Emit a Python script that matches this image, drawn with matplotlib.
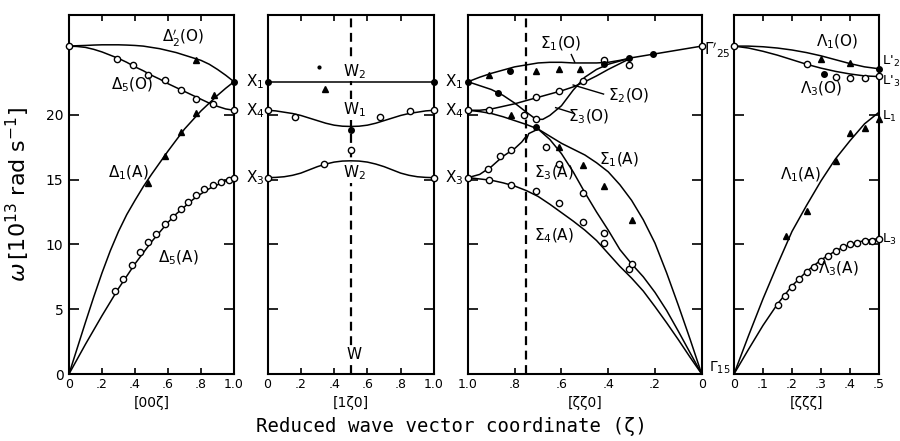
import matplotlib.pyplot as plt

plt.rcParams['font.family'] = 'DejaVu Sans'
plt.rcParams['mathtext.fontset'] = 'dejavusans'

# ---- [00z] panel ----
d_x = [0, .05, .1, .15, .2, .25, .3, .35, .4, .45, .5, .55, .6, .65, .7, .75, .8, .85, .9, .95, 1.0]
d2p_O = [25.3, 25.33, 25.35, 25.38, 25.4, 25.4, 25.4, 25.38, 25.35, 25.3, 25.2, 25.1, 24.95,
         24.8, 24.6, 24.4, 24.2, 23.9, 23.5, 23.05, 22.55]
d5_O = [25.3, 25.27, 25.2, 25.05, 24.85, 24.6, 24.35, 24.05, 23.7, 23.4, 23.05, 22.75, 22.4,
        22.1, 21.8, 21.5, 21.2, 20.9, 20.65, 20.45, 20.35]
d1_A = [0, 2.0, 4.0, 5.95, 7.8, 9.5, 11.0, 12.3, 13.4, 14.45, 15.4, 16.3, 17.2, 18.05, 18.9,
        19.6, 20.3, 20.9, 21.5, 22.05, 22.55]
d5_A = [0, 1.15, 2.3, 3.4, 4.5, 5.55, 6.6, 7.55, 8.5, 9.35, 10.2, 10.95, 11.7, 12.35, 12.9,
        13.45, 13.9, 14.3, 14.6, 14.9, 15.15]

d5O_px = [0.29, 0.39, 0.48, 0.58, 0.68, 0.77, 0.87]
d5O_py = [24.3, 23.85, 23.05, 22.65, 21.9, 21.2, 20.85]
d1A_px = [0.48, 0.58, 0.68, 0.77, 0.88, 0.77]
d1A_py = [14.7, 16.85, 18.7, 20.1, 21.5, 24.2]
d5A_px = [0.28, 0.33, 0.38, 0.43, 0.48, 0.53, 0.58, 0.63, 0.68, 0.72, 0.77, 0.82, 0.87, 0.92, 0.97]
d5A_py = [6.4, 7.3, 8.4, 9.4, 10.2, 10.8, 11.6, 12.1, 12.7, 13.25, 13.8, 14.3, 14.6, 14.8, 15.0]

# ---- [1z0] panel ----
w_x = [0, .05, .1, .15, .2, .25, .3, .35, .4, .45, .5, .55, .6, .65, .7, .75, .8, .85, .9, .95, 1.0]
w1 = [20.35, 20.3, 20.2, 20.1, 19.95, 19.75, 19.55, 19.35, 19.2, 19.12, 19.1,
      19.12, 19.2, 19.35, 19.55, 19.75, 19.95, 20.1, 20.2, 20.3, 20.35]
w2 = [15.15, 15.17, 15.22, 15.33, 15.5, 15.75, 16.0, 16.2, 16.35, 16.43, 16.45,
      16.43, 16.35, 16.2, 16.0, 15.75, 15.5, 15.33, 15.22, 15.17, 15.15]
x1_level = 22.55
w_open_x = [0.167, 0.675, 0.855, 0.5, 0.34]
w_open_y = [19.85, 19.8, 20.3, 17.3, 16.2]

# ---- [zz0] panel ----
s_x = [1.0, .95, .9, .85, .8, .75, .7, .65, .6, .55, .5, .45, .4, .35, .3, .25, .2, .15, .1, .05, 0]
s1_O = [22.55, 22.9, 23.2, 23.45, 23.7, 23.85, 24.0, 24.05, 24.05, 24.0, 24.0, 24.0, 24.05,
        24.2, 24.4, 24.55, 24.7, 24.85, 25.0, 25.15, 25.3]
s3_O_x = [1.0, .95, .9, .85, .8, .75, .72, .7, .68, .65, .6, .55, .5, .45, .4, .35, .3]
s3_O = [22.55, 22.25, 21.95, 21.5, 20.9, 20.2, 19.8, 19.65, 19.65, 19.95, 20.7, 21.9, 22.9,
        23.5, 23.9, 24.15, 24.4]
s2_O_x = [1.0, .95, .9, .85, .8, .75, .7, .65, .6, .55, .5, .45, .4, .35, .3]
s2_O = [20.35, 20.35, 20.45, 20.65, 20.85, 21.1, 21.35, 21.6, 21.85, 22.15, 22.55, 23.0, 23.5, 23.95, 24.4]
s1_A = [20.35, 20.25, 20.1, 19.85, 19.55, 19.25, 18.9, 18.35, 17.8, 17.35, 16.9, 16.3, 15.6,
        14.6, 13.4, 11.9, 10.1, 7.8, 5.3, 2.7, 0]
s3_A_x = [1.0, .95, .9, .85, .8, .77, .755, .75, .74, .7, .65, .6, .55, .5, .45, .4, .35, .3,
          .25, .2, .15, .1, .05, 0]
s3_A = [15.15, 15.4, 16.0, 16.8, 17.4, 17.9, 18.25, 18.1, 18.55, 18.9, 18.1, 17.0, 15.6, 14.0,
        12.5, 11.1, 9.6, 8.5, 7.5, 6.3, 4.9, 3.3, 1.65, 0]
s4_A = [15.15, 15.05, 14.95, 14.75, 14.5, 14.15, 13.7, 13.1, 12.45, 11.8, 11.1, 10.3, 9.3, 8.3,
        7.4, 6.4, 5.2, 3.95, 2.65, 1.3, 0]

s_open_x = [0.91, 0.71, 0.61, 0.51, 0.31, 0.42, 0.76, 0.71, 0.915, 0.865, 0.815, 0.665, 0.61,
            0.51, 0.91, 0.815, 0.71, 0.61, 0.51, 0.42, 0.42, 0.31, 0.30]
s_open_y = [20.35, 21.4, 21.8, 22.6, 23.85, 24.25, 20.0, 19.7, 15.8, 16.8, 17.3, 17.5, 16.2,
            14.0, 15.0, 14.6, 14.1, 13.2, 11.75, 10.9, 10.1, 8.1, 8.5]
s_fill_x = [0.82, 0.42, 0.31, 0.21, 0.87, 0.71]
s_fill_y = [23.35, 23.9, 24.4, 24.7, 21.7, 19.05]
s_tri_x = [0.91, 0.71, 0.61, 0.52, 0.815, 0.61, 0.51, 0.42, 0.30]
s_tri_y = [23.1, 23.35, 23.5, 23.5, 20.0, 17.5, 16.1, 14.5, 11.9]

# ---- [zzz] panel ----
l_x = [0, .05, .1, .15, .2, .25, .3, .35, .4, .45, .5]
l1_O = [25.3, 25.3, 25.25, 25.15, 25.0, 24.8, 24.55, 24.25, 23.95, 23.7, 23.55]
l3_O = [25.3, 25.15, 24.9, 24.6, 24.25, 23.9, 23.6, 23.35, 23.15, 23.0, 22.95]
l1_A = [0, 2.95, 5.8, 8.45, 11.0, 13.0, 14.9, 16.6, 18.0, 19.3, 20.2]
l3_A = [0, 1.9, 3.75, 5.4, 6.8, 7.9, 8.8, 9.5, 10.0, 10.3, 10.45]

l_tri_x = [0.30, 0.40, 0.18, 0.253, 0.35, 0.40, 0.45, 0.5]
l_tri_y = [24.3, 24.0, 10.65, 12.6, 16.4, 18.6, 18.95, 19.7]
l_open_x = [0.25, 0.35, 0.40, 0.45, 0.5, 0.15, 0.175, 0.2, 0.225, 0.25, 0.275, 0.3, 0.325,
            0.35, 0.375, 0.4, 0.425, 0.45, 0.475, 0.5]
l_open_y = [23.95, 22.9, 22.85, 22.85, 23.0, 5.35, 6.05, 6.74, 7.33, 7.85, 8.23, 8.75, 9.13,
            9.5, 9.78, 10.04, 10.1, 10.24, 10.3, 10.45]

X1, X4, X3, G25 = 22.55, 20.35, 15.15, 25.3

fig = plt.figure(figsize=(9, 4.41), dpi=100)
YTOP = 27.7


def make_ax(l, r):
    ax = fig.add_axes([l / 900, 1 - 374 / 441, (r - l) / 900, 359 / 441])
    ax.set_ylim(0, YTOP)
    ax.set_yticks([5, 10, 15, 20])
    ax.tick_params(axis='y', direction='in', left=True, right=True, length=7, width=1.2,
                   labelleft=False)
    ax.tick_params(axis='x', direction='in', top=True, bottom=True, length=4, width=1.2,
                   labelsize=9, pad=3)
    for sp in ax.spines.values():
        sp.set_linewidth(1.5)
    return ax


def line(ax, x, y):
    ax.plot(x, y, color='k', lw=1.1, clip_on=False, zorder=3)


def mark(ax, x, y, kind):
    if kind == 'o':
        ax.plot(x, y, 'o', ms=4.5, mfc='white', mec='k', mew=1.0, ls='none', clip_on=False, zorder=4)
    elif kind == 'f':
        ax.plot(x, y, 'o', ms=4, color='k', ls='none', clip_on=False, zorder=4)
    else:
        ax.plot(x, y, '^', ms=4.5, color='k', ls='none', clip_on=False, zorder=4)


def lab(ax, x, y, s, **kw):
    ax.text(x, y, s, fontsize=11, ha='center', va='center', zorder=5, **kw)


def side(ax, xa, y, s, size=11):
    ax.text(xa, y, s, fontsize=size, ha='left', va='center',
            transform=ax.get_yaxis_transform(), clip_on=False)


def sub(ax, s):
    ax.text(0.5, -0.08, s, transform=ax.transAxes, ha='center', va='center', fontsize=10)


# panel 1
ax1 = make_ax(69, 234)
ax1.set_xlim(0, 1.0)
ax1.set_xticks([0, .2, .4, .6, .8, 1.0], ['0', '.2', '.4', '.6', '.8', '1.0'])
ax1.set_yticks([0, 5, 10, 15, 20], ['0', '5', '10', '15', '20'])
ax1.tick_params(axis='y', labelleft=True, labelsize=10, pad=4)
line(ax1, d_x, d2p_O)
line(ax1, d_x, d5_O)
line(ax1, d_x, d1_A)
line(ax1, d_x, d5_A)
mark(ax1, d5O_px, d5O_py, 'o')
mark(ax1, d1A_px, d1A_py, '^')
mark(ax1, d5A_px, d5A_py, 'o')
mark(ax1, [0, 1.0, 1.0], [G25, X4, X3], 'o')
mark(ax1, [1.0], [X1], 'f')
lab(ax1, 0.69, 25.9, r"$\Delta_2'$(O)")
lab(ax1, 0.38, 22.3, r"$\Delta_5$(O)")
lab(ax1, 0.36, 15.5, r"$\Delta_1$(A)")
lab(ax1, 0.66, 9.0, r"$\Delta_5$(A)")
sub(ax1, '[00ζ]')
ax1.set_ylabel(r"$\omega\,[10^{13}$ rad s$^{-1}]$", fontsize=16, labelpad=10)
side(ax1, 1.07, X1, 'X$_1$')
side(ax1, 1.07, X4, 'X$_4$')
side(ax1, 1.07, X3, 'X$_3$')

# panel 2
ax2 = make_ax(267.5, 434)
ax2.set_xlim(0, 1.0)
ax2.set_xticks([0, .2, .4, .6, .8, 1.0], ['0', '.2', '.4', '.6', '.8', '1.0'])
ax2.axvline(0.5, color='k', lw=1.6, ls=(0, (4, 2.5)), zorder=2)
line(ax2, [0, 1.0], [x1_level, x1_level])
line(ax2, w_x, w1)
line(ax2, w_x, w2)
mark(ax2, w_open_x, w_open_y, 'o')
mark(ax2, [0.5], [18.8], 'f')
mark(ax2, [0.347], [21.97], '^')
ax2.plot([0.307], [23.7], 'o', ms=2, color='k')
mark(ax2, [0, 1.0], [X1, X1], 'f')
mark(ax2, [0, 1.0, 0, 1.0], [X4, X4, X3, X3], 'o')
wbox = dict(facecolor='white', edgecolor='none', pad=0.5)
lab(ax2, 0.52, 23.35, 'W$_2$', bbox=wbox)
lab(ax2, 0.52, 20.4, 'W$_1$', bbox=wbox)
lab(ax2, 0.52, 15.5, 'W$_2$', bbox=wbox)
lab(ax2, 0.52, 1.5, 'W', bbox=wbox)
sub(ax2, '[1ζ0]')
side(ax2, 1.066, X1, 'X$_1$')
side(ax2, 1.066, X4, 'X$_4$')
side(ax2, 1.066, X3, 'X$_3$')

# panel 3
ax3 = make_ax(468, 701.7)
ax3.set_xlim(1.0, 0)
ax3.set_xticks([1.0, .8, .6, .4, .2, 0], ['1.0', '.8', '.6', '.4', '.2', '0'])
ax3.axvline(0.75, color='k', lw=1.6, ls=(0, (4, 2.5)), zorder=2)
line(ax3, s_x, s1_O)
line(ax3, s3_O_x, s3_O)
line(ax3, s2_O_x, s2_O)
line(ax3, s_x, s1_A)
line(ax3, s3_A_x, s3_A)
line(ax3, s_x, s4_A)
mark(ax3, s_open_x, s_open_y, 'o')
mark(ax3, s_fill_x, s_fill_y, 'f')
mark(ax3, s_tri_x, s_tri_y, '^')
mark(ax3, [1.0, 1.0, 0], [X4, X3, G25], 'o')
mark(ax3, [1.0], [X1], 'f')
lab(ax3, 0.605, 25.45, r"$\Sigma_1$(O)")
ax3.plot([0.558, 0.543], [24.65, 24.05], color='k', lw=1.0)
lab(ax3, 0.31, 21.5, r"$\Sigma_2$(O)")
ax3.plot([0.42, 0.55], [21.6, 22.3], color='k', lw=1.0)
lab(ax3, 0.485, 19.85, r"$\Sigma_3$(O)")
ax3.plot([0.545, 0.625], [20.1, 20.55], color='k', lw=1.0)
lab(ax3, 0.355, 16.5, r"$\Sigma_1$(A)")
lab(ax3, 0.63, 15.5, r"$\Sigma_3$(A)")
lab(ax3, 0.63, 10.7, r"$\Sigma_4$(A)")
sub(ax3, '[ζζ0]')
side(ax3, 1.008, 25.0, r"$\Gamma'_{25}$")
side(ax3, 1.03, 0.5, r"$\Gamma_{15}$", 10)

# panel 4
ax4 = make_ax(734, 879)
ax4.set_xlim(0, 0.5)
ax4.set_xticks([0, .1, .2, .3, .4, .5], ['0', '.1', '.2', '.3', '.4', '.5'])
line(ax4, l_x, l1_O)
line(ax4, l_x, l3_O)
line(ax4, l_x, l1_A)
line(ax4, l_x, l3_A)
mark(ax4, l_tri_x, l_tri_y, '^')
mark(ax4, l_open_x, l_open_y, 'o')
mark(ax4, [0], [G25], 'o')
mark(ax4, [0.31, 0.5], [23.15, 23.55], 'f')
lab(ax4, 0.355, 25.6, r"$\Lambda_1$(O)")
lab(ax4, 0.30, 22.0, r"$\Lambda_3$(O)")
lab(ax4, 0.23, 15.4, r"$\Lambda_1$(A)")
lab(ax4, 0.36, 8.1, r"$\Lambda_3$(A)")
sub(ax4, '[ζζζ]')
side(ax4, 1.02, 24.15, "L$'_2$", 9.5)
side(ax4, 1.02, 22.6, "L$'_3$", 9.5)
side(ax4, 1.02, 19.9, 'L$_1$', 9.5)
side(ax4, 1.02, 10.4, 'L$_3$', 9.5)

fig.text(452 / 900, 0.034, 'Reduced wave vector coordinate (ζ)', family='DejaVu Sans Mono',
         fontsize=13.7, ha='center', va='center')

fig.savefig('out.png', dpi=100)
